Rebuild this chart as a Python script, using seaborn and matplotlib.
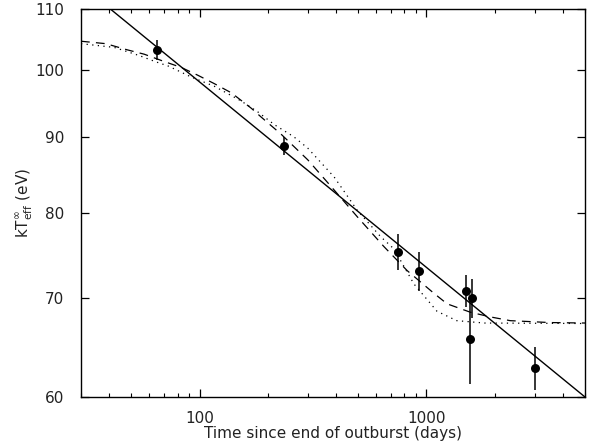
import matplotlib
matplotlib.use("Agg")
import matplotlib.pyplot as plt
import matplotlib.ticker as mticker
import seaborn as sns
import pandas as pd
import numpy as np

# Observed points (days since end of outburst, kT_eff^inf in eV)
obs_days = [65, 235, 751, 929, 1493, 1587, 1560, 3011]
obs_kt = [103.2, 88.8, 75.3, 73.0, 70.8, 70.0, 65.7, 62.8]
obs_err = [1.6, 1.3, 2.1, 2.2, 1.75, 2.1, 4.5, 2.1]

# Power-law fit (straight in log-log), end points
pl_days = [30, 5000]
pl_kt = [114.2, 60.0]

# Dashed model curve
dash_days = [30, 38.6, 48, 57, 69, 83, 98, 116, 138, 169, 187, 228, 300, 392,
             496, 649, 822, 1073, 1233, 1560, 1910, 2340, 3500, 5000]
dash_kt = [104.6, 104.2, 103.2, 102.5, 101.4, 100.4, 99.2, 97.9, 96.5, 94.2,
           92.9, 90.5, 86.9, 82.9, 79.5, 75.9, 73.1, 70.6, 69.4, 68.5, 68.0,
           67.6, 67.4, 67.35]

# Dotted model curve
dot_days = [30, 42, 54, 64, 73, 92, 116, 152, 180, 214, 260, 300, 392, 496,
            627, 720, 880, 1113, 1360, 1800, 5000]
dot_kt = [104.2, 103.6, 102.3, 101.3, 100.6, 98.9, 97.5, 95.3, 93.7, 91.8,
          90.1, 88.5, 84.6, 80.3, 77.1, 75.6, 71.6, 68.6, 67.6, 67.35, 67.3]

x_ticks = [100, 1000]
y_ticks = [60, 70, 80, 90, 100, 110]

sns.set_style("ticks")
plt.rcParams["font.family"] = ["DejaVu Sans"]

fig = plt.figure(figsize=(5.89, 4.44), dpi=100)
ax = fig.add_axes([81 / 589, 47 / 444, 504 / 589, 388 / 444])
ax.set_xscale("log")
ax.set_yscale("log")

pl = pd.DataFrame({"t": pl_days, "kt": pl_kt})
da = pd.DataFrame({"t": dash_days, "kt": dash_kt})
do = pd.DataFrame({"t": dot_days, "kt": dot_kt})
obs = pd.DataFrame({"t": obs_days, "kt": obs_kt, "err": obs_err})

sns.lineplot(data=pl, x="t", y="kt", color="black", lw=1.0, sort=False,
             estimator=None, ax=ax)
sns.lineplot(data=da, x="t", y="kt", color="black", lw=0.9, sort=False,
             estimator=None, dashes=False, ax=ax, linestyle=(0, (7, 5)))
sns.lineplot(data=do, x="t", y="kt", color="black", lw=0.9, sort=False,
             estimator=None, dashes=False, ax=ax, linestyle=(0, (1, 3.5)))

ax.errorbar(obs["t"], obs["kt"], yerr=obs["err"], fmt="none", ecolor="black",
            elinewidth=1.1, capsize=0)
sns.scatterplot(data=obs, x="t", y="kt", color="black", s=42, edgecolor="black",
                linewidth=0, ax=ax, zorder=5)

ax.set_xlim(30, 5000)
ax.set_ylim(60, 110)

ax.xaxis.set_major_locator(mticker.FixedLocator(x_ticks))
ax.xaxis.set_major_formatter(mticker.FixedFormatter([str(v) for v in x_ticks]))
ax.xaxis.set_minor_locator(mticker.LogLocator(base=10, subs=np.arange(2, 10)))
ax.xaxis.set_minor_formatter(mticker.NullFormatter())
ax.yaxis.set_major_locator(mticker.FixedLocator(y_ticks))
ax.yaxis.set_major_formatter(mticker.FixedFormatter([str(v) for v in y_ticks]))
ax.yaxis.set_minor_locator(mticker.NullLocator())

ax.tick_params(which="both", direction="in", top=True, right=True,
               colors="black", labelcolor="#222222", labelsize=11)
ax.tick_params(which="major", length=6, width=0.9)
ax.tick_params(which="minor", length=3, width=0.8)
ax.tick_params(axis="y", pad=12)
ax.tick_params(axis="x", pad=10)

for sp in ax.spines.values():
    sp.set_visible(True)
    sp.set_linewidth(1.0)
    sp.set_color("black")

ax.set_xlabel("Time since end of outburst (days)", fontsize=11,
              color="#222222", labelpad=0)
ax.set_ylabel(r"kT$_{\rm eff}^{\infty}$ (eV)", fontsize=11, color="#222222")
ax.yaxis.set_label_coords(-0.092, 0.5)

fig.savefig("out.png", dpi=100)
